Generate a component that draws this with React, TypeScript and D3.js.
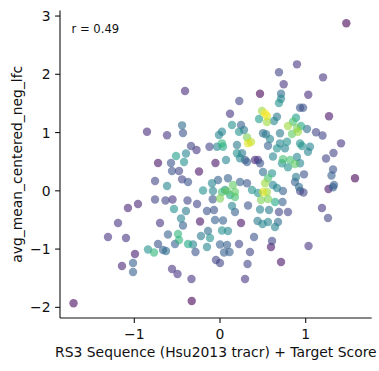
import React from 'react';
import * as d3 from 'd3';

// x: RS3 Sequence (Hsu2013 tracr) + Target Score
const xValues = [
  1.474, 0.898, 0.688, 1.202, 0.743, -0.408, 1.030, 0.467, 0.712, 0.712,
  0.688, 0.225, 0.934, 0.969, 0.117, 0.490, 0.525, 0.548, 0.665, 0.887,
  1.272, 0.455, 0.548, 0.630, 0.852, -0.443, 0.140, 0.245, 0.793, 0.898,
  0.945, 1.015, -0.852, -0.432, -0.618, 0.023, -0.012, 0.222, 0.280, 0.502,
  0.537, 0.700, 0.840, 0.910, 1.120, 1.196, 0.315, 0.583, 0.362, 0.327,
  0.700, 0.782, 0.934, 1.412, -0.338, -0.123, -0.035, 0.023, 0.035, 0.198,
  0.560, 0.665, 0.758, 0.957, 1.050, -0.274, 1.027, -0.397, 0.198, 0.257,
  1.324, -0.513, 0.233, 0.070, 0.292, 0.408, 0.443, 0.618, 0.735, 0.817,
  1.237, 0.898, -0.420, -0.572, -0.723, -0.053, 0.315, 0.467, 0.723, 0.875,
  0.934, 0.793, 1.319, -0.560, -0.478, -0.245, 0.502, 0.607, 0.980, 1.301,
  0.887, 0.875, 1.575, 0.560, 0.093, -0.443, -0.758, -0.373, -0.093, -0.023,
  0.233, 0.315, 0.152, 0.525, 0.618, 1.330, -0.618, 0.665, 0.922, 1.319,
  1.266, -0.198, 0.058, 0.175, 0.023, 0.082, -0.082, 0.373, 0.502, 0.548,
  0.735, 0.974, 0.934, 0.443, 0.117, 0.175, 0.000, -0.758, -0.636, -0.554,
  -0.379, -0.268, -0.085, 0.478, 0.560, -0.957, -1.074, 0.642, 0.729, 0.140,
  0.327, 1.190, -0.537, -0.397, -0.152, -0.070, 0.175, 0.467, 0.572, 0.688,
  0.793, 1.260, -0.455, -1.190, -0.700, -0.233, -0.058, 0.035, 0.245, 0.438,
  0.496, 0.560, 0.642, 0.677, -0.432, -0.140, 0.023, 0.093, -0.607, -0.490,
  -0.222, -1.307, -1.097, -0.117, -0.478, 0.397, 0.607, -0.525, -0.373, -0.315,
  -0.723, 0.000, 0.082, 0.222, -0.152, 0.595, 1.033, -0.840, -0.770, -0.665,
  -0.630, -0.286, 0.047, 0.111, 0.350, -0.992, -1.144, -1.015, -1.015, -0.047,
  0.000, 0.321, 0.712, -0.560, -0.496, -0.333, 0.292, -0.330, -1.709,
];

// y: avg_mean_centered_neg_lfc
const yValues = [
  2.875, 2.171, 2.034, 1.948, 1.828, 1.713, 1.649, 1.667, 1.667, 1.581,
  1.507, 1.541, 1.426, 1.426, 1.323, 1.370, 1.330, 1.284, 1.272, 1.255,
  1.279, 1.232, 1.181, 1.198, 1.186, 1.124, 1.129, 1.129, 1.112, 1.073,
  1.112, 1.061, 1.014, 0.992, 0.953, 1.014, 0.958, 1.014, 1.044, 0.987,
  0.970, 0.987, 0.975, 1.014, 1.004, 0.949, 0.918, 0.889, 0.838, 0.815,
  0.815, 0.843, 0.812, 0.815, 0.769, 0.757, 0.757, 0.815, 0.757, 0.786,
  0.774, 0.729, 0.729, 0.769, 0.757, 0.700, 0.671, 0.640, 0.644, 0.644,
  0.649, 0.597, 0.558, 0.529, 0.529, 0.529, 0.529, 0.589, 0.541, 0.529,
  0.554, 0.580, 0.494, 0.477, 0.477, 0.477, 0.494, 0.472, 0.472, 0.460,
  0.472, 0.403, 0.366, 0.340, 0.340, 0.331, 0.323, 0.300, 0.283, 0.263,
  0.237, 0.151, 0.215, 0.215, 0.215, 0.197, 0.168, 0.151, 0.129, 0.185,
  0.151, 0.129, 0.100, 0.129, 0.100, 0.100, 0.082, 0.048, 0.065, 0.060,
  0.031, 0.005, 0.014, -0.021, -0.021, -0.003, -0.003, 0.014, -0.021, -0.021,
  -0.003, -0.029, -0.003, -0.038, -0.072, -0.106, -0.132, -0.149, -0.166, -0.149,
  -0.166, -0.227, -0.146, -0.158, -0.141, -0.227, -0.295, -0.192, -0.192, -0.261,
  -0.252, -0.295, -0.312, -0.347, -0.347, -0.330, -0.364, -0.321, -0.330, -0.364,
  -0.364, -0.467, -0.475, -0.553, -0.553, -0.527, -0.501, -0.510, -0.553, -0.518,
  -0.570, -0.536, -0.621, -0.536, -0.596, -0.690, -0.681, -0.690, -0.750, -0.741,
  -0.776, -0.793, -0.810, -0.810, -0.844, -0.793, -0.862, -0.913, -0.913, -0.922,
  -0.913, -0.922, -0.930, -0.913, -0.965, -0.965, -0.947, -1.008, -1.059, -1.016,
  -1.033, -1.050, -1.059, -1.050, -1.050, -1.085, -1.291, -1.239, -1.394, -1.188,
  -1.239, -1.256, -1.222, -1.342, -1.428, -1.514, -1.514, -1.891, -1.931,
];

// colour value of each point (0 = purple … 1 = yellow, viridis)
const colorValues = [
  0.00, 0.15, 0.20, 0.15, 0.15, 0.12, 0.12, 0.00, 0.35, 0.45,
  0.50, 0.20, 0.25, 0.25, 0.15, 0.85, 1.00, 0.95, 0.40, 0.55,
  0.05, 0.55, 0.85, 0.45, 0.70, 0.35, 0.50, 0.30, 0.85, 0.80,
  0.60, 0.35, 0.12, 0.25, 0.15, 0.45, 0.45, 0.50, 0.40, 0.35,
  0.40, 0.40, 0.75, 0.85, 0.20, 0.20, 0.80, 0.45, 0.90, 0.95,
  0.45, 0.50, 0.50, 0.15, 0.20, 0.20, 0.45, 0.65, 0.60, 0.40,
  0.30, 0.50, 0.45, 0.50, 0.45, 0.15, 0.45, 0.45, 0.50, 0.40,
  0.20, 0.55, 0.45, 0.45, 0.25, 0.12, 0.15, 0.45, 0.70, 0.70,
  0.20, 0.45, 0.50, 0.25, 0.05, 0.05, 0.30, 0.25, 0.50, 0.75,
  0.45, 0.50, 0.25, 0.25, 0.20, 0.05, 0.35, 0.50, 0.25, 0.30,
  0.40, 0.30, 0.00, 0.70, 0.30, 0.20, 0.20, 0.25, 0.45, 0.30,
  0.30, 0.25, 0.75, 0.85, 0.45, 0.30, 0.45, 0.45, 0.35, 0.30,
  0.05, 0.50, 0.50, 0.75, 0.70, 0.75, 0.45, 0.50, 0.95, 0.85,
  0.30, 0.20, 0.20, 0.50, 0.60, 0.70, 0.80, 0.20, 0.20, 0.15,
  0.20, 0.20, 0.25, 0.80, 0.80, 0.10, 0.10, 0.60, 0.30, 0.45,
  0.25, 0.15, 0.50, 0.40, 0.25, 0.25, 0.30, 0.45, 0.40, 0.20,
  0.20, 0.20, 0.45, 0.15, 0.15, 0.05, 0.30, 0.30, 0.05, 0.40,
  0.45, 0.45, 0.45, 0.35, 0.30, 0.35, 0.50, 0.45, 0.30, 0.65,
  0.40, 0.15, 0.15, 0.50, 0.65, 0.25, 0.20, 0.30, 0.60, 0.45,
  0.25, 0.30, 0.30, 0.20, 0.45, 0.05, 0.15, 0.50, 0.65, 0.30,
  0.35, 0.25, 0.30, 0.30, 0.20, 0.08, 0.10, 0.30, 0.30, 0.20,
  0.20, 0.20, 0.05, 0.15, 0.15, 0.15, 0.15, 0.00, 0.02,
];

const xTicks = [-1, 0, 1];
const yTicks = [-2, -1, 0, 1, 2, 3];
const xDomain = [-1.867, 1.77];
const yDomain = [-2.183, 3.095];
const xLabel = 'RS3 Sequence (Hsu2013 tracr) + Target Score';
const yLabel = 'avg_mean_centered_neg_lfc';
const annotation = 'r = 0.49';

const W = 379;
const H = 371;
const plot = { left: 60, right: 371.7, top: 10.5, bottom: 318 };
const FONT = '"DejaVu Sans", Verdana, sans-serif';
const INK = '#111';

const fmt = (t: number) => String(t).replace('-', '\u2212');

export default function App() {
  const x = d3.scaleLinear().domain(xDomain).range([plot.left, plot.right]);
  const y = d3.scaleLinear().domain(yDomain).range([plot.bottom, plot.top]);
  const n = Math.min(xValues.length, yValues.length, colorValues.length);
  const idx = d3.range(n).sort((a, b) => colorValues[a] - colorValues[b]);

  return (
    <svg
      width={W}
      height={H}
      style={{ position: 'absolute', left: 0, top: 0, background: '#fff' }}
      fontFamily={FONT}
    >
      <rect width={W} height={H} fill="#fff" />
      <g>
        {idx.map((i) => (
          <circle
            key={i}
            cx={x(xValues[i])}
            cy={y(yValues[i])}
            r={4.2}
            fill={d3.interpolateViridis(colorValues[i])}
            fillOpacity={0.6}
          />
        ))}
      </g>
      {/* spines */}
      <line x1={plot.left} x2={plot.left} y1={plot.top} y2={plot.bottom} stroke={INK} strokeWidth={1.1} />
      <line x1={plot.left} x2={plot.right} y1={plot.bottom} y2={plot.bottom} stroke={INK} strokeWidth={1.1} />
      {/* x ticks */}
      {xTicks.map((t) => (
        <g key={'x' + t}>
          <line x1={x(t)} x2={x(t)} y1={plot.bottom} y2={plot.bottom + 4.9} stroke={INK} strokeWidth={1.1} />
          <text x={x(t)} y={plot.bottom + 20.5} textAnchor="middle" fontSize={13.9} fill={INK}>
            {fmt(t)}
          </text>
        </g>
      ))}
      {/* y ticks */}
      {yTicks.map((t) => (
        <g key={'y' + t}>
          <line x1={plot.left - 4.9} x2={plot.left} y1={y(t)} y2={y(t)} stroke={INK} strokeWidth={1.1} />
          <text x={plot.left - 9.5} y={y(t) + 5} textAnchor="end" fontSize={13.9} fill={INK}>
            {fmt(t)}
          </text>
        </g>
      ))}
      <text x={(plot.left + plot.right) / 2} y={356.5} textAnchor="middle" fontSize={13.9} fill={INK}>
        {xLabel}
      </text>
      <text
        transform={`translate(${21.5},${(plot.top + plot.bottom) / 2}) rotate(-90)`}
        textAnchor="middle"
        fontSize={13.9}
        fill={INK}
      >
        {yLabel}
      </text>
      <text x={71.5} y={33.3} fontSize={11.6} fill={INK}>
        {annotation}
      </text>
    </svg>
  );
}
